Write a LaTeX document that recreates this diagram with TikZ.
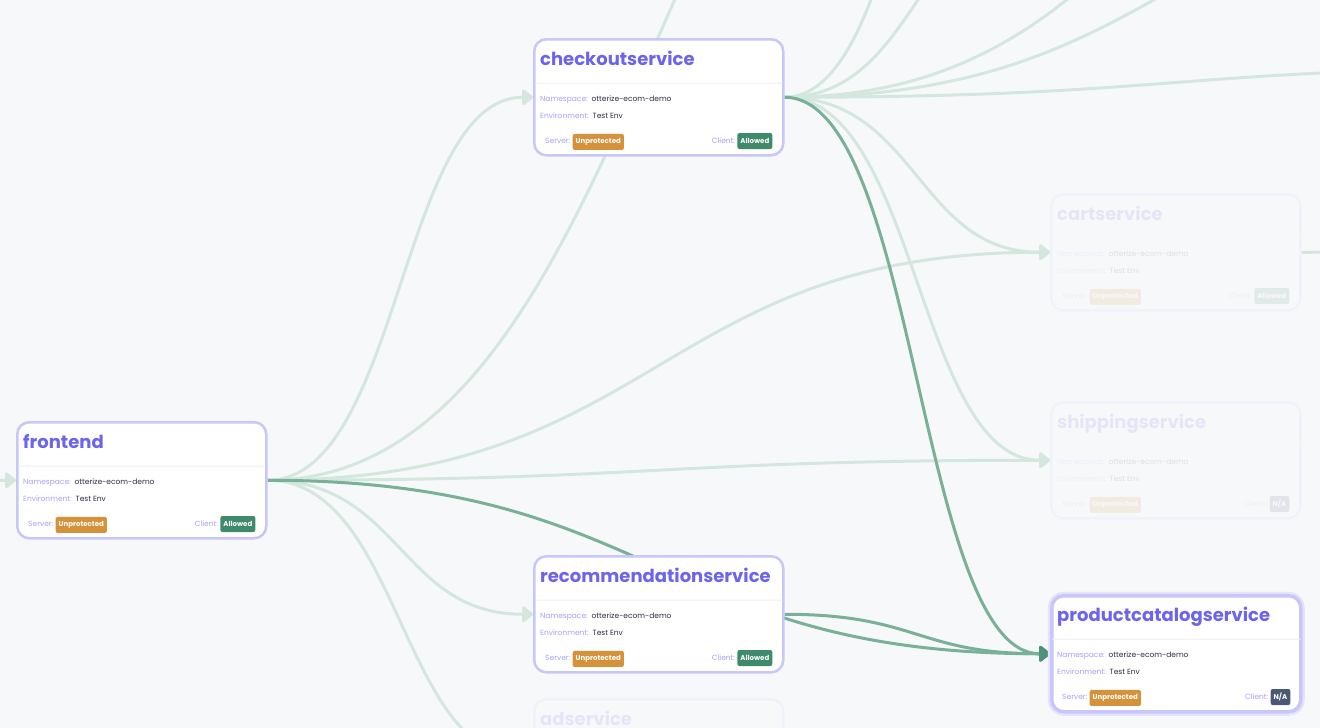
\documentclass[tikz,border=0pt]{standalone}
\usepackage{fontspec}
\setmainfont{Poppins}
\usepackage{tikz}
\usetikzlibrary{positioning,arrows.meta,calc,backgrounds}
\definecolor{canvasbg}{HTML}{F7F8FA}
\definecolor{cardline}{HTML}{C9C6FA}
\definecolor{cardglow}{HTML}{E4E2FD}
\definecolor{sepgray}{HTML}{EFEFF4}
\definecolor{titleblue}{HTML}{6C63EF}
\definecolor{keypurple}{HTML}{A7A2F3}
\definecolor{valink}{HTML}{2B2C47}
\definecolor{badgeorange}{HTML}{D6923A}
\definecolor{badgegreen}{HTML}{3E8A6B}
\definecolor{badgeslate}{HTML}{4B5876}
\definecolor{edgelight}{HTML}{D4E7DE}
\definecolor{edgedark}{HTML}{78B098}
\definecolor{arrowdark}{HTML}{4D9276}

% one service card: [extra card style]{name}{x}{y}{title}{client}{client colour}{opacity}
\newcommand{\servicecard}[8][]{%
  \begin{scope}[transparency group, opacity=#8]
  \node[card, #1] (#2) at (#3,#4) {};
  \node[cardtitle] (#2-title) at ([xshift=7pt,yshift=-27pt]#2.north west) {#5};
  \draw[sepline] ([xshift=2pt,yshift=-45pt]#2.north west) -- ([xshift=-2pt,yshift=-45pt]#2.north east);
  \node[keytext] (#2-nskey) at ([xshift=7pt,yshift=-62pt]#2.north west) {Namespace:};
  \node[valtext, base right=3.5pt of #2-nskey] (#2-ns) {otterize-ecom-demo};
  \node[keytext] (#2-envkey) at ([xshift=7pt,yshift=-78pt]#2.north west) {Environment:};
  \node[valtext, base right=3.5pt of #2-envkey] (#2-env) {Test Env};
  \node[keytext] (#2-srvkey) at ([xshift=12pt,yshift=-103pt]#2.north west) {Server:};
  \node[badge, fill=badgeorange, base right=2pt of #2-srvkey] (#2-srv) {Unprotected};
  \node[badge, fill=#7, anchor=east] (#2-cli) at ([xshift=-12pt,yshift=-103pt]#2.north east) {#6};
  \node[keytext, base left=2pt of #2-cli] (#2-clikey) {Client:};
  \end{scope}
}

\begin{document}
\begin{tikzpicture}[
  x=1pt, y=-1pt,
  card/.style={draw=cardline, fill=white, line width=2.5pt, rounded corners=12pt,
               minimum width=249pt, minimum height=116pt, anchor=north west, inner sep=0pt},
  hotcard/.style={line width=3.5pt, preaction={draw=cardglow, line width=8pt}},
  cardtitle/.style={anchor=base west, inner sep=0pt, text=titleblue,
                    font=\fontsize{18}{22}\selectfont\bfseries},
  sepline/.style={draw=sepgray, line width=1pt},
  keytext/.style={anchor=west, inner sep=0pt, text=keypurple, font=\fontsize{7.5}{9}\selectfont},
  valtext/.style={inner sep=0pt, text=valink, font=\fontsize{7.5}{9}\selectfont},
  badge/.style={rounded corners=2pt, text=white, inner xsep=3pt, inner ysep=0pt,
                minimum height=16pt, font=\fontsize{7}{9}\selectfont\bfseries},
  flow/.style={draw=edgelight, line width=3pt,
               -{Triangle[length=12pt, width=18pt, round, color=edgelight]},
               to path={let \p1=(\tikztostart), \p2=(\tikztotarget) in
                 .. controls ({(\x1+\x2)/2},\y1) and ({(\x1+\x2)/2},\y2) .. (\tikztotarget)}},
  hot/.style={flow, draw=edgedark,
              -{Triangle[length=12pt, width=18pt, round, color=arrowdark]}},
]
\useasboundingbox (0,0) rectangle (1320,728);
\clip (0,0) rectangle (1320,728);
% Cards in view
\servicecard{checkout}{533}{38}{checkoutservice}{Allowed}{badgegreen}{1}
\servicecard{frontend}{16}{421}{frontend}{Allowed}{badgegreen}{1}
\servicecard{recommendation}{533}{555}{recommendationservice}{Allowed}{badgegreen}{1}
\servicecard[hotcard]{productcatalog}{1050}{594}{productcatalogservice}{N/A}{badgeslate}{1}
% Faded cards
\servicecard{cart}{1050}{193}{cartservice}{Allowed}{badgegreen}{0.12}
\servicecard{shipping}{1050}{401}{shippingservice}{N/A}{badgeslate}{0.12}
\begin{scope}[transparency group, opacity=0.12]
\node[card] (ad) at (533,698) {};
\node[cardtitle] (ad-title) at ([xshift=7pt,yshift=-27pt]ad.north west) {adservice};
\end{scope}
% Ends outside the view
\coordinate (fromleft) at (-250,480);
\coordinate (farup1) at (1049,-400);
\coordinate (farup2) at (1049,-90);
\coordinate (farup3) at (1566,-300);
\coordinate (farup4) at (1566,-120);
\coordinate (farright) at (1566,68);
\coordinate (cartout) at (1566,251);
% Edges, beneath the cards
\begin{scope}[on background layer]
\clip (0,0) rectangle (1320,728);
\fill[canvasbg] (0,0) rectangle (1320,728);
\draw[flow] (fromleft) to (frontend.west);
\draw[flow] (frontend.east) to (farup1);
\draw[flow] (frontend.east) to (checkout.west);
\draw[flow] (frontend.east) to (cart.west);
\draw[flow] (frontend.east) to (shipping.west);
\draw[flow] (frontend.east) to (recommendation.west);
\draw[flow] (frontend.east) to (ad.west);
\draw[flow] (checkout.east) to (farup1);
\draw[flow] (checkout.east) to (farup2);
\draw[flow] (checkout.east) to (farup3);
\draw[flow] (checkout.east) to (farup4);
\draw[flow] (checkout.east) to (farright);
\draw[flow] (checkout.east) to (cart.west);
\draw[flow] (checkout.east) to (shipping.west);
\draw[flow] (cart.east) to (cartout);
% Highlighted
\draw[hot] (frontend.east) to (productcatalog.west);
\draw[hot] (checkout.east) to (productcatalog.west);
\draw[hot] (recommendation.east) to (productcatalog.west);
\end{scope}
\end{tikzpicture}
\end{document}
